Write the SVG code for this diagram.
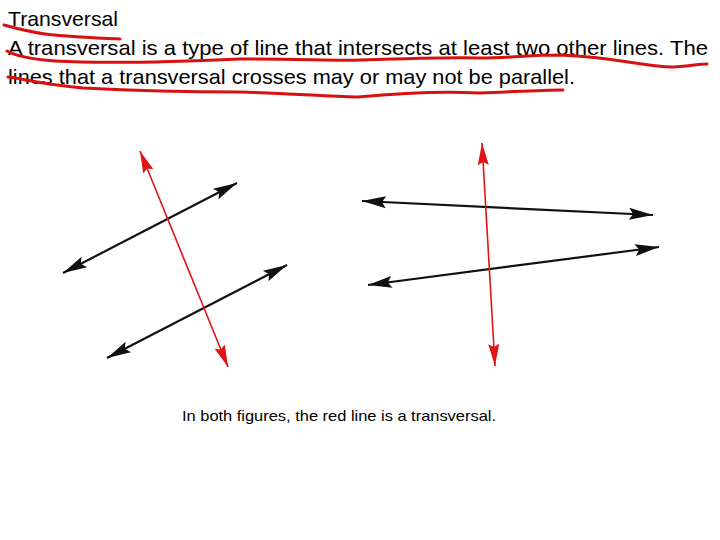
<svg xmlns="http://www.w3.org/2000/svg" width="720" height="540" viewBox="0 0 720 540">
<style>
.t{font-family:"Liberation Sans",Arial,sans-serif;font-size:21px;fill:#000}
.c{font-family:"Liberation Sans",Arial,sans-serif;font-size:14.5px;fill:#000}
.blk{stroke:#111;stroke-width:2.2;fill:none}
.red{stroke:#e01414;stroke-width:1.6;fill:none}
.ul{stroke:#d81010;stroke-width:3;fill:none;stroke-linecap:round;stroke-linejoin:round}
</style>
<defs>
<marker id="ab" markerUnits="userSpaceOnUse" markerWidth="26" markerHeight="16" viewBox="0 0 26 16" refX="24" refY="8" orient="auto-start-reverse">
<path d="M0,2 L24,8 L0,14 L4,8 Z" fill="#111"/>
</marker>
<marker id="ar" markerUnits="userSpaceOnUse" markerWidth="24" markerHeight="14" viewBox="0 0 24 14" refX="22" refY="7" orient="auto-start-reverse">
<path d="M0,1.5 L22,7 L0,12.5 L3,7 Z" fill="#e01414"/>
</marker>
</defs>
<rect width="720" height="540" fill="#fff"/>
<g id="text">
<text class="t" x="8" y="26" textLength="110" lengthAdjust="spacingAndGlyphs">Transversal</text>
<text class="t" x="8" y="55" textLength="700" lengthAdjust="spacingAndGlyphs">A transversal is a type of line that intersects at least two other lines. The</text>
<text class="t" x="8" y="84" textLength="567" lengthAdjust="spacingAndGlyphs">lines that a transversal crosses may or may not be parallel.</text>
<text class="c" x="182" y="421" textLength="314" lengthAdjust="spacingAndGlyphs">In both figures, the red line is a transversal.</text>
</g>
<g id="underlines">
<path class="ul" d="M4,25 C15,28 30,32 45,34 C70,37 95,38 120,39"/>
<path class="ul" d="M7,51 C14,55 28,59 55,61 C90,63 150,63 240,59 C300,59 340,61 360,60 C420,58 460,57 480,58 C510,58 530,55 560,55 C590,56 610,59 635,63 C655,66 665,67 673,67 C690,66 700,64 707,64"/>
<path class="ul" d="M8,77 C20,78 40,84 83,88 C140,91 200,92 240,92 C300,94 340,97 358,97 C400,93 440,91 480,93 C510,92 540,90 563,90"/>
</g>
<g id="figure-left">
<line id="l1" class="blk" x1="63" y1="273" x2="237" y2="183" marker-start="url(#ab)" marker-end="url(#ab)"/>
<line id="l2" class="blk" x1="107" y1="358" x2="287" y2="265" marker-start="url(#ab)" marker-end="url(#ab)"/>
<line id="t1" class="red" x1="140" y1="151" x2="228" y2="367" marker-start="url(#ar)" marker-end="url(#ar)"/>
</g>
<g id="figure-right">
<line id="l3" class="blk" x1="362" y1="201" x2="653" y2="215" marker-start="url(#ab)" marker-end="url(#ab)"/>
<line id="l4" class="blk" x1="368" y1="285" x2="659" y2="247" marker-start="url(#ab)" marker-end="url(#ab)"/>
<line id="t2" class="red" x1="482" y1="143" x2="495" y2="366" marker-start="url(#ar)" marker-end="url(#ar)"/>
</g>
</svg>
